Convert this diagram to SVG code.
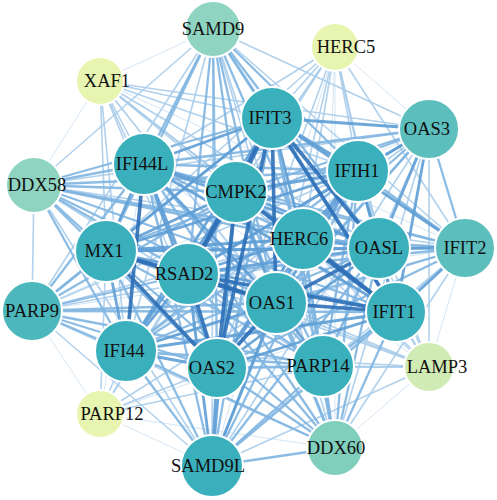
<svg xmlns="http://www.w3.org/2000/svg" width="497" height="500" viewBox="0 0 497 500">
<style>
#edges path{fill:none;stroke-linecap:butt;stroke-opacity:0.9}
.a{stroke:#2e6fb7;stroke-width:3.6}
.b{stroke:#5e9dd5;stroke-width:2.8}
.c{stroke:#80b5e1;stroke-width:2.3}
.d{stroke:#a8ccea;stroke-width:1.6}
.e{stroke:#cfe2f3;stroke-width:1}
circle{stroke:#fff;stroke-width:2}
.t{fill:#3bb0bd}
.t2{fill:#5cbfbe}
.t3{fill:#4cb8bd}
.g{fill:#8ed4c1}
.g2{fill:#7fcfbc}
.l{fill:#d0ebb3}
.y{fill:#e7f5b0}
text{font-family:"Liberation Serif","DejaVu Serif",serif;font-size:18.5px;fill:#111;text-anchor:middle}
</style>
<rect width="497" height="500" fill="#fff"/>
<g id="edges">
<path class="e" d="M213 29L100 81"/><path class="e" d="M335 47L429 129"/><path class="e" d="M335 47L212 466"/><path class="e" d="M335 47L323 366"/><path class="e" d="M335 47L335 448"/><path class="e" d="M335 47L126 351"/><path class="e" d="M100 81L34 185"/><path class="e" d="M100 81L465 248"/><path class="e" d="M100 81L323 366"/><path class="e" d="M429 367L465 248"/><path class="e" d="M429 367L335 448"/><path class="e" d="M429 367L144 164"/><path class="e" d="M100 414L212 466"/><path class="e" d="M100 414L335 448"/><path class="e" d="M100 414L144 164"/><path class="e" d="M100 414L396 312"/><path class="e" d="M32 311L100 414"/><path class="e" d="M32 311L429 129"/><path class="e" d="M32 311L465 248"/>
<path class="d" d="M32 311L212 466"/><path class="d" d="M32 311L303 239"/><path class="d" d="M32 311L379 248"/><path class="d" d="M32 311L358 171"/><path class="d" d="M32 311L34 185"/><path class="d" d="M32 311L335 448"/>
<path class="d" d="M213 29L126 351"/><path class="d" d="M213 29L323 366"/><path class="d" d="M213 29L212 466"/><path class="d" d="M213 29L429 129"/><path class="d" d="M213 29L465 248"/><path class="d" d="M213 29L34 185"/><path class="d" d="M213 29L335 448"/><path class="d" d="M213 29L32 311"/>
<path class="d" d="M335 47L272 118"/><path class="d" d="M335 47L358 171"/><path class="d" d="M335 47L236 192"/><path class="d" d="M335 47L303 239"/><path class="d" d="M335 47L379 248"/><path class="d" d="M335 47L276 303"/><path class="d" d="M335 47L396 312"/><path class="d" d="M335 47L217 368"/><path class="d" d="M335 47L188 274"/><path class="d" d="M335 47L106 251"/><path class="d" d="M335 47L144 164"/><path class="d" d="M335 47L465 248"/>
<path class="d" d="M100 81L144 164"/><path class="d" d="M100 81L106 251"/><path class="d" d="M100 81L236 192"/><path class="d" d="M100 81L272 118"/><path class="d" d="M100 81L188 274"/><path class="d" d="M100 81L276 303"/><path class="d" d="M100 81L396 312"/><path class="d" d="M100 81L217 368"/><path class="d" d="M100 81L126 351"/><path class="d" d="M100 81L303 239"/><path class="d" d="M100 81L379 248"/><path class="d" d="M100 81L358 171"/><path class="d" d="M100 81L429 129"/>
<path class="d" d="M34 185L212 466"/><path class="d" d="M34 185L323 366"/><path class="d" d="M34 185L429 129"/><path class="d" d="M34 185L465 248"/>
<path class="d" d="M429 367L396 312"/><path class="d" d="M429 367L379 248"/><path class="d" d="M429 367L303 239"/><path class="d" d="M429 367L276 303"/><path class="d" d="M429 367L323 366"/><path class="d" d="M429 367L188 274"/><path class="d" d="M429 367L272 118"/><path class="d" d="M429 367L236 192"/><path class="d" d="M429 367L217 368"/><path class="d" d="M429 367L106 251"/><path class="d" d="M429 367L212 466"/><path class="d" d="M429 367L126 351"/><path class="d" d="M429 367L358 171"/><path class="d" d="M429 367L429 129"/>
<path class="d" d="M100 414L126 351"/><path class="d" d="M100 414L217 368"/><path class="d" d="M100 414L188 274"/><path class="d" d="M100 414L106 251"/><path class="d" d="M100 414L323 366"/><path class="d" d="M100 414L276 303"/><path class="d" d="M100 414L236 192"/>
<path class="d" d="M335 448L465 248"/><path class="d" d="M335 448L429 129"/>
<path class="d" d="M126 351L429 129"/><path class="d" d="M126 351L465 248"/><path class="d" d="M323 366L429 129"/><path class="d" d="M323 366L465 248"/><path class="d" d="M212 466L429 129"/><path class="d" d="M212 466L465 248"/>
<path class="c" d="M32 311L106 251"/><path class="c" d="M32 311L188 274"/><path class="c" d="M32 311L126 351"/><path class="c" d="M32 311L276 303"/><path class="c" d="M32 311L217 368"/><path class="c" d="M32 311L396 312"/><path class="c" d="M32 311L323 366"/><path class="c" d="M32 311L144 164"/><path class="c" d="M32 311L236 192"/><path class="c" d="M32 311L272 118"/>
<path class="c" d="M213 29L272 118"/><path class="c" d="M213 29L144 164"/><path class="c" d="M213 29L358 171"/><path class="c" d="M213 29L236 192"/><path class="c" d="M213 29L303 239"/><path class="c" d="M213 29L379 248"/><path class="c" d="M213 29L106 251"/><path class="c" d="M213 29L188 274"/><path class="c" d="M213 29L276 303"/><path class="c" d="M213 29L396 312"/><path class="c" d="M213 29L217 368"/>
<path class="c" d="M34 185L144 164"/><path class="c" d="M34 185L106 251"/><path class="c" d="M34 185L236 192"/><path class="c" d="M34 185L188 274"/><path class="c" d="M34 185L272 118"/><path class="c" d="M34 185L358 171"/><path class="c" d="M34 185L276 303"/><path class="c" d="M34 185L396 312"/><path class="c" d="M34 185L303 239"/><path class="c" d="M34 185L379 248"/><path class="c" d="M34 185L217 368"/><path class="c" d="M34 185L126 351"/>
<path class="c" d="M335 448L212 466"/><path class="c" d="M335 448L323 366"/><path class="c" d="M335 448L217 368"/><path class="c" d="M335 448L276 303"/><path class="c" d="M335 448L396 312"/><path class="c" d="M335 448L188 274"/><path class="c" d="M335 448L126 351"/><path class="c" d="M335 448L106 251"/><path class="c" d="M335 448L303 239"/><path class="c" d="M335 448L236 192"/><path class="c" d="M335 448L272 118"/><path class="c" d="M335 448L379 248"/><path class="c" d="M335 448L358 171"/><path class="c" d="M335 448L144 164"/>
<path class="c" d="M272 118L323 366"/><path class="c" d="M272 118L212 466"/>
<path class="c" d="M144 164L358 171"/><path class="c" d="M144 164L303 239"/><path class="c" d="M144 164L323 366"/><path class="c" d="M144 164L212 466"/><path class="c" d="M144 164L429 129"/><path class="c" d="M144 164L465 248"/>
<path class="c" d="M358 171L126 351"/><path class="c" d="M358 171L323 366"/><path class="c" d="M358 171L212 466"/><path class="c" d="M358 171L465 248"/>
<path class="c" d="M236 192L323 366"/><path class="c" d="M236 192L429 129"/><path class="c" d="M236 192L465 248"/>
<path class="c" d="M303 239L126 351"/><path class="c" d="M303 239L323 366"/><path class="c" d="M303 239L212 466"/><path class="c" d="M303 239L429 129"/><path class="c" d="M303 239L465 248"/>
<path class="c" d="M379 248L126 351"/><path class="c" d="M379 248L323 366"/><path class="c" d="M379 248L212 466"/>
<path class="c" d="M106 251L323 366"/><path class="c" d="M106 251L212 466"/><path class="c" d="M106 251L429 129"/><path class="c" d="M106 251L465 248"/>
<path class="c" d="M188 274L323 366"/><path class="c" d="M188 274L429 129"/><path class="c" d="M188 274L465 248"/>
<path class="c" d="M276 303L429 129"/><path class="c" d="M276 303L465 248"/>
<path class="c" d="M396 312L323 366"/><path class="c" d="M396 312L212 466"/>
<path class="c" d="M126 351L323 366"/><path class="c" d="M126 351L212 466"/>
<path class="c" d="M323 366L217 368"/><path class="c" d="M323 366L212 466"/>
<path class="c" d="M217 368L429 129"/><path class="c" d="M217 368L465 248"/>
<path class="c" d="M429 129L465 248"/>
<path class="b" d="M272 118L144 164"/><path class="b" d="M272 118L358 171"/><path class="b" d="M272 118L303 239"/><path class="b" d="M272 118L106 251"/><path class="b" d="M272 118L126 351"/><path class="b" d="M272 118L429 129"/><path class="b" d="M272 118L465 248"/>
<path class="b" d="M144 164L236 192"/><path class="b" d="M144 164L379 248"/><path class="b" d="M144 164L106 251"/><path class="b" d="M144 164L188 274"/><path class="b" d="M144 164L276 303"/><path class="b" d="M144 164L396 312"/><path class="b" d="M144 164L217 368"/>
<path class="b" d="M358 171L236 192"/><path class="b" d="M358 171L303 239"/><path class="b" d="M358 171L379 248"/><path class="b" d="M358 171L106 251"/><path class="b" d="M358 171L188 274"/><path class="b" d="M358 171L276 303"/><path class="b" d="M358 171L396 312"/><path class="b" d="M358 171L217 368"/><path class="b" d="M358 171L429 129"/>
<path class="b" d="M236 192L303 239"/><path class="b" d="M236 192L379 248"/><path class="b" d="M236 192L106 251"/><path class="b" d="M236 192L276 303"/><path class="b" d="M236 192L126 351"/><path class="b" d="M236 192L212 466"/>
<path class="b" d="M303 239L379 248"/><path class="b" d="M303 239L106 251"/><path class="b" d="M303 239L188 274"/><path class="b" d="M303 239L276 303"/><path class="b" d="M303 239L217 368"/>
<path class="b" d="M379 248L106 251"/><path class="b" d="M379 248L188 274"/><path class="b" d="M379 248L396 312"/><path class="b" d="M379 248L217 368"/><path class="b" d="M379 248L429 129"/><path class="b" d="M379 248L465 248"/>
<path class="b" d="M106 251L396 312"/><path class="b" d="M106 251L126 351"/>
<path class="b" d="M188 274L126 351"/><path class="b" d="M188 274L212 466"/>
<path class="b" d="M276 303L126 351"/><path class="b" d="M276 303L323 366"/><path class="b" d="M276 303L212 466"/>
<path class="b" d="M396 312L126 351"/><path class="b" d="M396 312L217 368"/><path class="b" d="M396 312L429 129"/><path class="b" d="M396 312L465 248"/>
<path class="b" d="M126 351L217 368"/><path class="b" d="M217 368L212 466"/>
<path class="a" d="M272 118L236 192"/><path class="a" d="M272 118L379 248"/><path class="a" d="M272 118L188 274"/><path class="a" d="M272 118L276 303"/><path class="a" d="M272 118L396 312"/><path class="a" d="M272 118L217 368"/>
<path class="a" d="M144 164L126 351"/>
<path class="a" d="M236 192L188 274"/><path class="a" d="M236 192L396 312"/><path class="a" d="M236 192L217 368"/>
<path class="a" d="M303 239L396 312"/><path class="a" d="M379 248L276 303"/>
<path class="a" d="M106 251L188 274"/><path class="a" d="M106 251L276 303"/><path class="a" d="M106 251L217 368"/>
<path class="a" d="M188 274L276 303"/><path class="a" d="M188 274L396 312"/><path class="a" d="M188 274L217 368"/>
<path class="a" d="M276 303L396 312"/><path class="a" d="M276 303L217 368"/>
</g>
<g id="n-SAMD9"><circle class="g" cx="213" cy="29" r="28"/><text x="213" y="35">SAMD9</text></g>
<g id="n-HERC5"><circle class="y" cx="335" cy="47" r="24"/><text x="346" y="53">HERC5</text></g>
<g id="n-XAF1"><circle class="y" cx="100" cy="81" r="24"/><text x="107" y="87">XAF1</text></g>
<g id="n-IFIT3"><circle class="t" cx="272" cy="118" r="31"/><text x="270" y="124">IFIT3</text></g>
<g id="n-OAS3"><circle class="t2" cx="429" cy="129" r="30"/><text x="427" y="135">OAS3</text></g>
<g id="n-IFI44L"><circle class="t" cx="144" cy="164" r="31"/><text x="142" y="170">IFI44L</text></g>
<g id="n-IFIH1"><circle class="t" cx="358" cy="171" r="31"/><text x="357" y="177">IFIH1</text></g>
<g id="n-DDX58"><circle class="g" cx="34" cy="185" r="28"/><text x="37" y="191">DDX58</text></g>
<g id="n-CMPK2"><circle class="t" cx="236" cy="192" r="31"/><text x="236" y="198">CMPK2</text></g>
<g id="n-HERC6"><circle class="t" cx="303" cy="239" r="31"/><text x="299" y="245">HERC6</text></g>
<g id="n-OASL"><circle class="t" cx="379" cy="248" r="31"/><text x="379" y="254">OASL</text></g>
<g id="n-IFIT2"><circle class="t2" cx="465" cy="248" r="30"/><text x="465" y="254">IFIT2</text></g>
<g id="n-MX1"><circle class="t" cx="106" cy="251" r="31"/><text x="104" y="257">MX1</text></g>
<g id="n-RSAD2"><circle class="t" cx="188" cy="274" r="31"/><text x="184" y="280">RSAD2</text></g>
<g id="n-OAS1"><circle class="t" cx="276" cy="303" r="31"/><text x="272" y="309">OAS1</text></g>
<g id="n-IFIT1"><circle class="t" cx="396" cy="312" r="30"/><text x="394" y="318">IFIT1</text></g>
<g id="n-PARP9"><circle class="t3" cx="32" cy="311" r="30"/><text x="32" y="317">PARP9</text></g>
<g id="n-IFI44"><circle class="t" cx="126" cy="351" r="31"/><text x="124" y="357">IFI44</text></g>
<g id="n-PARP14"><circle class="t" cx="323" cy="366" r="31"/><text x="318" y="372">PARP14</text></g>
<g id="n-OAS2"><circle class="t" cx="217" cy="368" r="30"/><text x="212" y="374">OAS2</text></g>
<g id="n-LAMP3"><circle class="l" cx="429" cy="367" r="25"/><text x="437" y="373">LAMP3</text></g>
<g id="n-PARP12"><circle class="y" cx="100" cy="414" r="24"/><text x="112" y="420">PARP12</text></g>
<g id="n-DDX60"><circle class="g2" cx="335" cy="448" r="28"/><text x="336" y="454">DDX60</text></g>
<g id="n-SAMD9L"><circle class="t" cx="212" cy="466" r="31"/><text x="208" y="472">SAMD9L</text></g>
</svg>
